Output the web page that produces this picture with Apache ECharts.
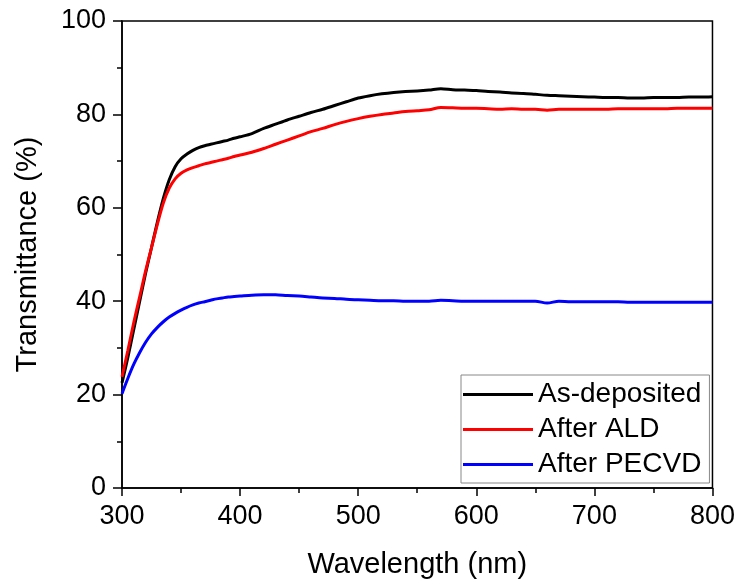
<!DOCTYPE html>
<html>
<head>
<meta charset="utf-8">
<script src="https://cdn.jsdelivr.net/npm/echarts@6/dist/echarts.min.js"></script>
<style>html,body{margin:0;padding:0;background:#fff}#c{width:738px;height:584px}</style>
</head>
<body>
<div id="c"></div>
<script>
var wavelength = [300,305,310,315,320,325,330,335,340,345,350,355,360,365,370,375,380,385,390,395,400,410,420,430,440,450,460,470,480,490,500,510,520,530,540,550,560,570,580,590,600,610,620,630,640,650,660,670,680,690,700,710,720,730,740,750,760,770,780,790,800];
var asDeposited = [22.5,28,34,40,46,51.5,57,62,66,68.8,70.5,71.5,72.3,72.9,73.3,73.6,73.9,74.2,74.5,74.9,75.2,75.9,77.0,77.9,78.8,79.6,80.4,81.1,81.9,82.7,83.5,84.0,84.4,84.7,84.9,85.0,85.2,85.5,85.3,85.2,85.1,84.9,84.8,84.6,84.5,84.3,84.1,84.0,83.9,83.8,83.7,83.6,83.6,83.5,83.5,83.6,83.6,83.6,83.7,83.7,83.8];
var afterALD = [23.8,29.5,35.5,41,46.5,51.5,56.5,61,64.2,66.2,67.4,68.1,68.6,69.0,69.4,69.7,70.0,70.3,70.6,71.0,71.3,71.9,72.7,73.6,74.5,75.4,76.3,77.0,77.8,78.5,79.1,79.6,80.0,80.3,80.6,80.8,81.0,81.5,81.4,81.3,81.3,81.2,81.1,81.2,81.1,81.1,80.9,81.1,81.1,81.1,81.1,81.1,81.2,81.2,81.2,81.2,81.2,81.3,81.3,81.3,81.3];
var afterPECVD = [20.2,23.5,26.5,29.0,31.2,33.0,34.4,35.6,36.6,37.4,38.1,38.7,39.2,39.6,39.9,40.2,40.5,40.7,40.9,41.0,41.1,41.3,41.4,41.4,41.2,41.1,40.9,40.7,40.6,40.4,40.3,40.2,40.1,40.1,40.0,40.0,40.0,40.2,40.1,40.0,40.0,40.0,40.0,40.0,40.0,40.0,39.6,40.0,39.9,39.9,39.9,39.9,39.9,39.8,39.8,39.8,39.8,39.8,39.8,39.8,39.8];
var seriesNames = ['As-deposited','After ALD','After PECVD'];
var seriesColors = ['#000000','#ff0000','#0000ff'];
var xTicks = [300,400,500,600,700,800];
var yTicks = [0,20,40,60,80,100];

function pairs(v){ return wavelength.map(function(w,i){ return [w, v[i]]; }); }
var values = [asDeposited, afterALD, afterPECVD];
var FONT = '"Liberation Sans", Arial, sans-serif';

var chart = echarts.init(document.getElementById('c'), null, {renderer:'canvas'});
chart.setOption({
  animation:false,
  backgroundColor:'#fff',
  grid:{left:122, right:25, top:21, bottom:94, show:true, borderColor:'#000', borderWidth:1.5, backgroundColor:'transparent'},
  legend:{
    orient:'vertical', left:461, top:375,
    data:seriesNames,
    itemWidth:70, itemHeight:3, itemGap:0,
    padding:[2,8,1,2],
    borderColor:'#888', borderWidth:1,
    textStyle:{fontFamily:FONT, fontSize:28, color:'#000', lineHeight:35},
    icon:'rect'
  },
  xAxis:{
    type:'value', min:xTicks[0], max:xTicks[xTicks.length-1], interval:100,
    name:'Wavelength (nm)', nameLocation:'middle', nameGap:62,
    nameTextStyle:{fontFamily:FONT, fontSize:29, color:'#000'},
    axisLine:{show:true, lineStyle:{color:'#000', width:1.5}},
    axisTick:{show:true, length:8, lineStyle:{color:'#000', width:1.5}},
    minorTick:{show:true, splitNumber:2, length:5, lineStyle:{color:'#000', width:1.5}},
    axisLabel:{fontFamily:FONT, fontSize:27, color:'#000', margin:15},
    splitLine:{show:false}
  },
  yAxis:{
    type:'value', min:yTicks[0], max:yTicks[yTicks.length-1], interval:20,
    name:'Transmittance (%)', nameLocation:'middle', nameGap:80,
    nameTextStyle:{fontFamily:FONT, fontSize:29, color:'#000'},
    axisLine:{show:true, lineStyle:{color:'#000', width:1.5}},
    axisTick:{show:true, length:9, lineStyle:{color:'#000', width:1.5}},
    minorTick:{show:true, splitNumber:2, length:5, lineStyle:{color:'#000', width:1.5}},
    axisLabel:{fontFamily:FONT, fontSize:27, color:'#000', margin:16},
    splitLine:{show:false}
  },
  series: seriesNames.map(function(n,i){
    return {
      name:n, type:'line', data:pairs(values[i]),
      showSymbol:false, symbol:'none', smooth:0.3,
      color:seriesColors[i],
      lineStyle:{color:seriesColors[i], width:3}
    };
  })
});
</script>
</body>
</html>
